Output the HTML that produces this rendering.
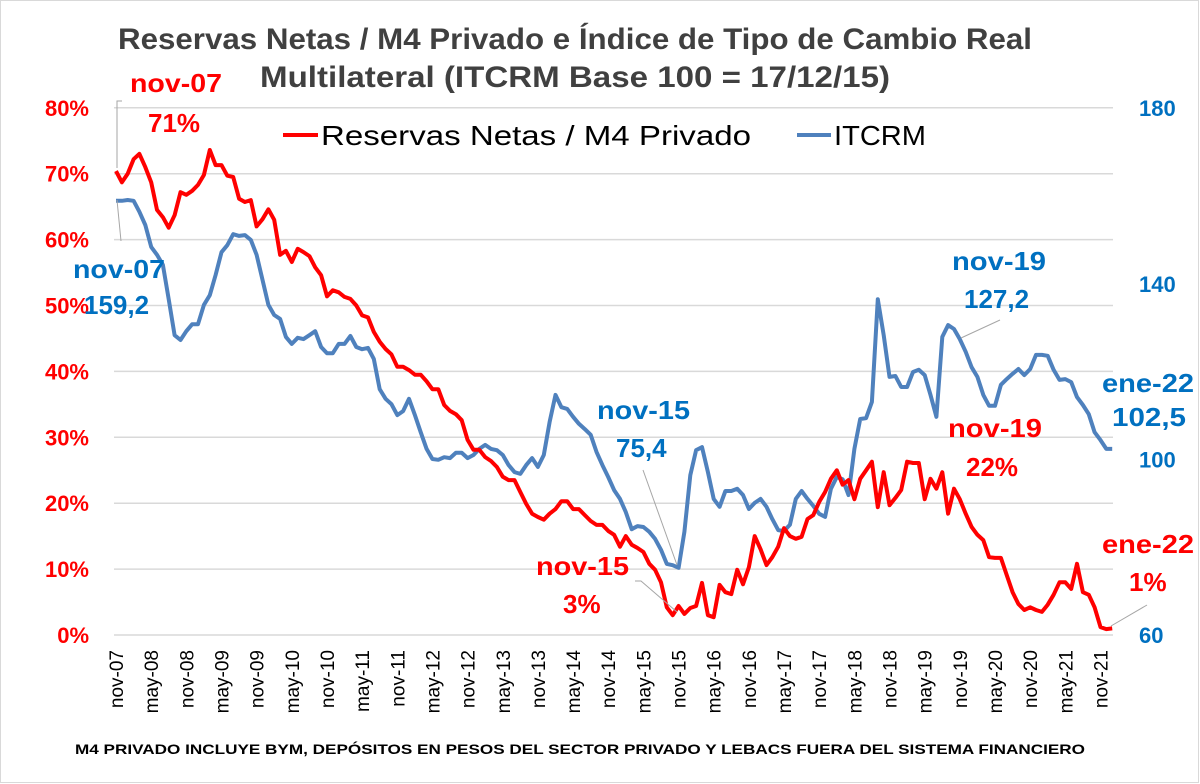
<!DOCTYPE html>
<html><head><meta charset="utf-8"><style>
html,body{margin:0;padding:0;background:#fff}
svg{display:block}
text{font-family:"Liberation Sans",sans-serif}
</style></head><body>
<svg id="chart" width="1200" height="784" viewBox="0 0 1200 784">
<rect x="0.5" y="0.5" width="1198" height="782" fill="#fff" stroke="#d9d9d9"/>
<g id="grid"></g>
<g id="xlabels"></g>
<g id="ylabels"></g>
<g id="y2labels"></g>
<g id="series"></g>
<text x="575" y="49" text-anchor="middle" font-size="30" font-weight="bold" fill="#404040" textLength="914" lengthAdjust="spacingAndGlyphs">Reservas Netas / M4 Privado e Índice de Tipo de Cambio Real</text>
<text x="575" y="87" text-anchor="middle" font-size="30" font-weight="bold" fill="#404040" textLength="630" lengthAdjust="spacingAndGlyphs">Multilateral (ITCRM Base 100 = 17/12/15)</text>
<g>
<line x1="283" y1="135" x2="318" y2="135" stroke="#ff0000" stroke-width="4"/>
<text x="321" y="145" font-size="28" fill="#000" textLength="430" lengthAdjust="spacingAndGlyphs">Reservas Netas / M4 Privado</text>
<line x1="797" y1="135" x2="831" y2="135" stroke="#4f81bd" stroke-width="4"/>
<text x="834" y="145" font-size="28" fill="#000" textLength="92" lengthAdjust="spacingAndGlyphs">ITCRM</text>
</g>
<g font-weight="bold" font-size="26">
<polyline points="122,101 117,101 117,168" fill="none" stroke="#a6a6a6"/>
<text x="130" y="92" fill="#ff0000" textLength="92" lengthAdjust="spacingAndGlyphs">nov-07</text>
<text x="148" y="132" fill="#ff0000">71%</text>
<line x1="117" y1="200" x2="121" y2="241" stroke="#a6a6a6"/>
<text x="73" y="278" fill="#0070c0" textLength="92" lengthAdjust="spacingAndGlyphs">nov-07</text>
<text x="84" y="314" fill="#0070c0">159,2</text>
<line x1="643" y1="470" x2="677" y2="565" stroke="#a6a6a6"/>
<text x="597" y="419" fill="#0070c0" textLength="93" lengthAdjust="spacingAndGlyphs">nov-15</text>
<text x="616" y="457" fill="#0070c0">75,4</text>
<polyline points="635,581 641,581 677,612" fill="none" stroke="#a6a6a6"/>
<text x="536" y="575" fill="#ff0000" textLength="93" lengthAdjust="spacingAndGlyphs">nov-15</text>
<text x="563" y="613" fill="#ff0000">3%</text>
<line x1="1000" y1="320" x2="961" y2="338" stroke="#a6a6a6"/>
<text x="952" y="270" fill="#0070c0" textLength="94" lengthAdjust="spacingAndGlyphs">nov-19</text>
<text x="964" y="308" fill="#0070c0">127,2</text>
<text x="948" y="437" fill="#ff0000" textLength="94" lengthAdjust="spacingAndGlyphs">nov-19</text>
<text x="966" y="476" fill="#ff0000">22%</text>
<text x="1102" y="392" fill="#0070c0" textLength="92" lengthAdjust="spacingAndGlyphs">ene-22</text>
<text x="1112" y="426" fill="#0070c0" textLength="74" lengthAdjust="spacingAndGlyphs">102,5</text>
<line x1="1111" y1="626" x2="1147" y2="605" stroke="#a6a6a6"/>
<text x="1102" y="553" fill="#ff0000" textLength="92" lengthAdjust="spacingAndGlyphs">ene-22</text>
<text x="1129" y="591" fill="#ff0000">1%</text>
</g>
<text x="75" y="754" font-size="14" font-weight="bold" fill="#000" textLength="1010" lengthAdjust="spacingAndGlyphs">M4 PRIVADO INCLUYE BYM, DEPÓSITOS EN PESOS DEL SECTOR PRIVADO Y LEBACS FUERA DEL SISTEMA FINANCIERO</text>
</svg>
<script>
const reservas = [70.4,68.7,70,72.2,73,71,68.7,64.5,63.4,61.8,63.7,67.2,66.8,67.4,68.3,69.8,73.6,71.3,71.3,69.7,69.5,66.2,65.7,66,62,63.1,64.6,63,57.7,58.3,56.6,58.6,58.1,57.5,55.8,54.6,51.4,52.3,52,51.3,51,50,48.5,48.2,46,44.5,43.4,42.6,40.7,40.7,40.2,39.5,39.5,38.5,37.3,37.3,
34.9,34,33.5,32.6,29.6,28.1,28.1,27,26.4,25.5,24,23.5,23.5,21.7,19.9,18.4,17.9,17.5,18.4,19.1,20.3,20.3,19.1,19.1,18.2,17.3,16.7,16.7,15.8,15.2,13.4,15,13.7,13.2,12.6,10.8,9.9,8,4.2,3,4.4,3.2,4.1,4.4,7.9,3,2.7,7.6,6.5,6.2,9.9,7.7,10.3,15,
13,10.6,11.8,13.4,16.2,15,14.6,14.9,17.6,18.2,20.2,21.7,23.7,25,22.8,23.5,20.6,23.7,25,26.3,19.4,24.7,19.7,20.8,22,26.3,26.1,26.1,20.6,23.7,22.2,24.7,18.4,22.2,20.6,18.4,16.4,15.2,14.4,11.8,11.7,11.7,9.1,6.5,4.7,3.8,4.2,3.8,3.5,4.6,6.1,8,8,7,10.8,6.5,6.1,4.2,1.2,0.9,1.0];
const itcrm = [158.9,158.9,159.1,158.9,156.4,153.4,148.4,146.6,144.3,136.5,128.3,127.2,129.2,130.8,130.8,135.2,137.4,142,147.2,148.8,151.3,150.9,151.1,150,146.6,140.9,135.2,132.9,132,127.9,126.3,127.7,127.4,128.3,129.2,125.6,124.2,124.2,126.3,126.3,128.1,125.6,125.1,125.4,122.9,116,113.8,112.6,110.1,111,113.8,110.1,106.2,102.4,100.1,99.9,100.5,
100.3,101.5,101.5,100.3,101,102.4,103.3,102.4,102.1,101,98.7,97.1,96.7,98.7,100.3,98.3,101,108.5,114.7,111.9,111.5,109.7,108.1,106.9,105.6,101.7,98.7,96,93,91,88,84.1,84.8,84.6,83.5,81.9,79.4,76.2,75.9,75.3,83.5,96.4,102.1,102.8,97.1,91,89.2,92.8,92.8,93.3,91.9,88.7,90.1,91,89.2,86.4,83.9,
83.7,85.1,91,92.8,91,89.4,87.6,86.9,93.3,96,95.5,91.9,102.4,109.2,109.4,113.1,136.5,128.3,118.8,119,116.5,116.5,119.9,120.4,119.2,114.7,109.7,127.9,130.6,129.7,127.4,124.5,121,118.8,114.7,112.2,112.2,117,118.3,119.5,120.6,119.2,120.6,123.8,123.8,123.6,120.4,118.1,118.3,117.6,114.2,112.4,110.3,106.2,104.4,102.4,102.4];
const xTickLabels = ["nov-07","may-08","nov-08","may-09","nov-09","may-10","nov-10","may-11","nov-11","may-12","nov-12","may-13","nov-13","may-14","nov-14","may-15","nov-15","may-16","nov-16","may-17","nov-17","may-18","nov-18","may-19","nov-19","may-20","nov-20","may-21","nov-21"];
const leftTicks = [0,10,20,30,40,50,60,70,80];
const rightTicks = [60,100,140,180];

const NS="http://www.w3.org/2000/svg";
const X0=116, MONTH=5.86;
function x(i){return X0+i*MONTH;}
function yL(p){return 635-p*6.59;}
function yR(v){return 635-(v-60)*4.39;}
function mk(tag,attrs,parent){const e=document.createElementNS(NS,tag);for(const k in attrs)e.setAttribute(k,attrs[k]);parent.appendChild(e);return e;}
const grid=document.getElementById('grid'),xl=document.getElementById('xlabels'),yl=document.getElementById('ylabels'),y2=document.getElementById('y2labels'),ser=document.getElementById('series');
leftTicks.forEach(t=>{
  const g=mk('line',{x1:114,x2:1113,y1:yL(t),y2:yL(t),stroke:'#d9d9d9','stroke-width':1.5},grid);
  
  
  const tx=mk('text',{x:89,y:yL(t)+8,'text-anchor':'end','font-size':22,'font-weight':'bold',fill:'#ff0000'},yl);
  tx.textContent=t+'%';
  
  
});
rightTicks.forEach(t=>{
  const tx=mk('text',{x:1139,y:yR(t)+8,'font-size':22,'font-weight':'bold',fill:'#0070c0'},y2);
  tx.textContent=t;
  
  
});
xTickLabels.forEach((l,k)=>{
  const xx=x(k*6)+7;
  const tx=mk('text',{x:0,y:0,transform:'translate('+xx+',650) rotate(-90)','text-anchor':'end','font-size':19,fill:'#000'},xl);
  tx.textContent=l;
  
  
});
function line(data,yf,color,name){
  const pts=data.map((v,i)=>x(i).toFixed(1)+','+yf(v).toFixed(1)).join(' ');
  const p=mk('polyline',{points:pts,fill:'none',stroke:color,'stroke-width':4,'stroke-linejoin':'round'},ser);
  
  
}
line(itcrm,yR,'#4f81bd','itcrm-line');
line(reservas,yL,'#ff0000','reservas-line');
</script>
</body></html>
